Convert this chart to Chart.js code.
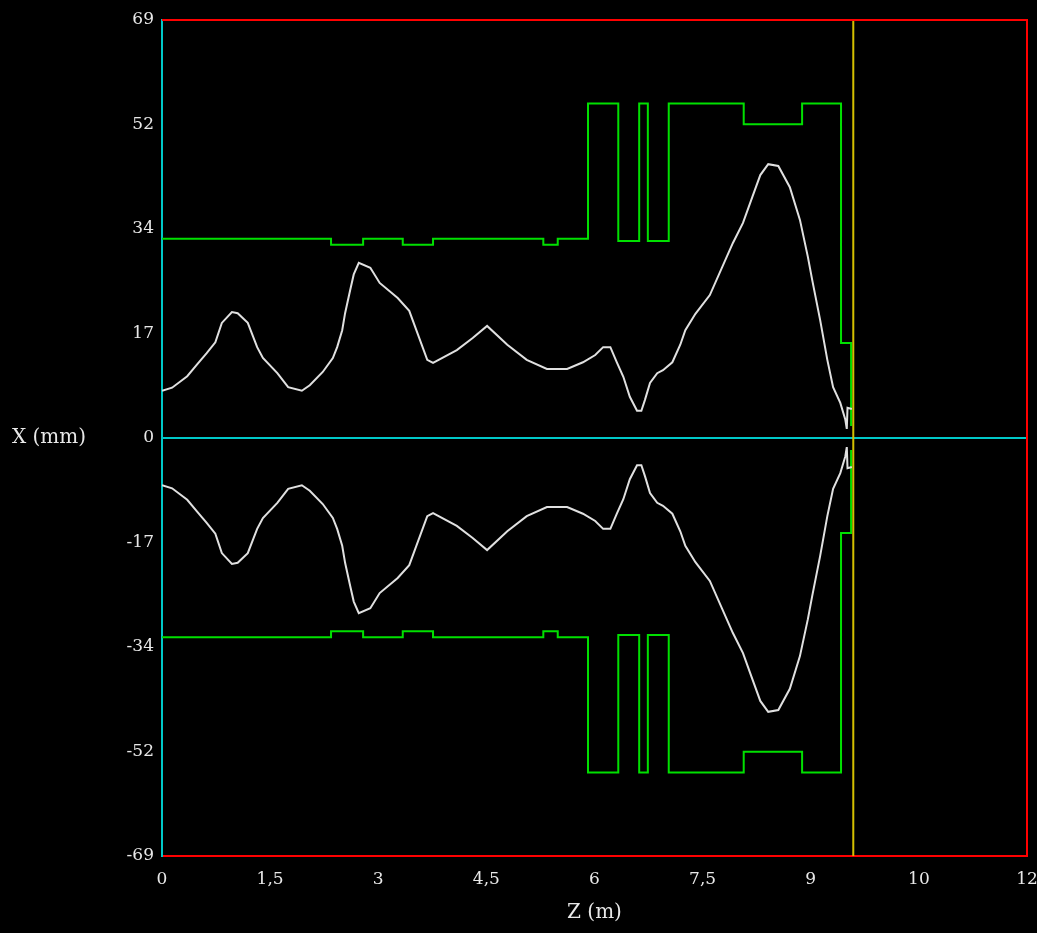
<!DOCTYPE html>
<html>
<head>
<meta charset="utf-8">
<script src="https://cdn.jsdelivr.net/npm/chart.js@4"></script>
<style>
  html, body { margin: 0; padding: 0; background: #000; }
  #wrap { width: 1037px; height: 933px; position: relative; }
</style>
</head>
<body>
<div id="wrap"><canvas id="envChart"></canvas></div>
<script>
// axis ticks (labels as printed on the original plot)
const zTicks = [0, 1.5, 3, 4.5, 6, 7.5, 9, 10.5, 12];
const zTickLabels = ['0', '1,5', '3', '4,5', '6', '7,5', '9', '10', '12'];
const xTicks = [-69, -51.75, -34.5, -17.25, 0, 17.25, 34.5, 51.75, 69];
const xTickLabels = ['-69', '-52', '-34', '-17', '0', '17', '34', '52', '69'];

// beam envelope (upper half, mirrored below)
const beamZ = [0, 0.14, 0.35, 0.49, 0.62, 0.74, 0.83, 0.97, 1.05, 1.19, 1.32, 1.40, 1.60, 1.75, 1.94,
    2.05, 2.23, 2.37, 2.43, 2.50, 2.54, 2.61, 2.66, 2.73, 2.89, 3.02, 3.27, 3.43, 3.68, 3.76,
    4.09, 4.31, 4.51, 4.79, 5.06, 5.34, 5.62, 5.84, 6.01, 6.12, 6.22, 6.31, 6.40, 6.49, 6.59,
    6.65, 6.70, 6.77, 6.87, 6.95, 7.08, 7.19, 7.26, 7.40, 7.60, 7.92, 8.06, 8.19, 8.30, 8.41,
    8.55, 8.71, 8.85, 8.96, 9.02, 9.13, 9.23, 9.31, 9.41, 9.48, 9.50, 9.51, 9.57];
const beamX = [7.8, 8.3, 10.2, 12.2, 14.0, 15.8, 19.0, 20.8, 20.6, 19.0, 15.0, 13.2, 10.7, 8.4, 7.8,
    8.7, 10.9, 13.2, 15.0, 17.8, 20.6, 24.4, 27.0, 28.9, 28.1, 25.6, 23.1, 21.0, 12.9, 12.4,
    14.5, 16.5, 18.5, 15.4, 12.9, 11.4, 11.4, 12.5, 13.7, 15.0, 15.0, 12.5, 10.1, 6.8, 4.5,
    4.5, 6.3, 9.1, 10.7, 11.2, 12.5, 15.4, 17.8, 20.5, 23.6, 32.2, 35.5, 39.8, 43.4, 45.2,
    44.9, 41.4, 36.0, 29.9, 26.1, 19.5, 12.9, 8.4, 5.8, 3.0, 1.5, 5.0, 4.8];

// aperture (element start z, half-aperture held until next element)
const apertureZ = [0, 2.345, 2.79, 3.34, 3.76, 5.29, 5.49, 5.91, 6.33, 6.62, 6.74, 7.03, 8.07, 8.88, 9.42, 9.56];
const apertureX = [32.9, 31.9, 32.9, 31.9, 32.9, 31.9, 32.9, 55.2, 32.5, 55.2, 32.5, 55.2, 51.8, 55.2, 15.7, 2];

const screenZ = 9.59;

const FONT = 'DejaVu Serif';

function pts(zs, xs, sign) {
    return zs.map((z, i) => ({ x: z, y: sign * xs[i] }));
}

const framePlugin = {
    id: 'frame',
    afterDraw(chart) {
        const { ctx, chartArea: a } = chart;
        ctx.save();
        ctx.strokeStyle = '#ff0000';
        ctx.lineWidth = 2;
        ctx.beginPath();
        ctx.moveTo(a.left, a.top);
        ctx.lineTo(a.right, a.top);
        ctx.lineTo(a.right, a.bottom);
        ctx.stroke();
        ctx.fillStyle = '#e8e8e8';
        ctx.font = '20px "' + FONT + '"';
        ctx.textAlign = 'center';
        ctx.textBaseline = 'middle';
        ctx.fillText('X (mm)', 49, 438);
        ctx.fillText('Z (m)', (a.left + a.right) / 2, 913);
        ctx.restore();
    }
};

new Chart(document.getElementById('envChart'), {
    type: 'line',
    data: {
        datasets: [
            { data: [{ x: 0, y: 0 }, { x: 12, y: 0 }], borderColor: '#00c8c8', borderWidth: 2, order: 5 },
            { data: pts(apertureZ, apertureX, 1), borderColor: '#00e000', borderWidth: 2, stepped: 'before', order: 3 },
            { data: pts(apertureZ, apertureX, -1), borderColor: '#00e000', borderWidth: 2, stepped: 'before', order: 3 },
            { data: pts(beamZ, beamX, 1), borderColor: '#e0e0e0', borderWidth: 2, order: 2 },
            { data: pts(beamZ, beamX, -1), borderColor: '#e0e0e0', borderWidth: 2, order: 2 },
            { data: [{ x: screenZ, y: -69 }, { x: screenZ, y: 69 }], borderColor: '#d4c000', borderWidth: 2, order: 1 }
        ]
    },
    options: {
        responsive: true,
        maintainAspectRatio: false,
        animation: false,
        layout: { padding: { left: 0, top: 20, right: 10, bottom: 0 } },
        elements: { point: { radius: 0 }, line: { tension: 0 } },
        plugins: { legend: { display: false }, tooltip: { enabled: false } },
        scales: {
            x: {
                type: 'linear',
                min: 0, max: 12,
                afterBuildTicks: s => { s.ticks = zTicks.map(v => ({ value: v })); },
                afterFit: s => { s.height = 77; s.paddingLeft = 0; s.paddingRight = 0; },
                grid: { display: false, drawTicks: false },
                border: { color: '#ff0000', width: 2 },
                ticks: {
                    padding: 13, color: '#e8e8e8', maxRotation: 0, autoSkip: false,
                    font: { family: FONT, size: 17 },
                    callback: (v, i) => zTickLabels[i]
                }
            },
            y: {
                type: 'linear',
                min: -69, max: 69,
                afterBuildTicks: s => { s.ticks = xTicks.map(v => ({ value: v })); },
                afterFit: s => { s.width = 162; s.paddingTop = 0; s.paddingBottom = 0; },
                grid: { display: false, drawTicks: false },
                border: { color: '#00c8c8', width: 2 },
                ticks: {
                    padding: 8, color: '#e8e8e8', autoSkip: false,
                    font: { family: FONT, size: 17 },
                    callback: (v, i) => xTickLabels[i]
                }
            }
        }
    },
    plugins: [framePlugin]
});
</script>
</body>
</html>
